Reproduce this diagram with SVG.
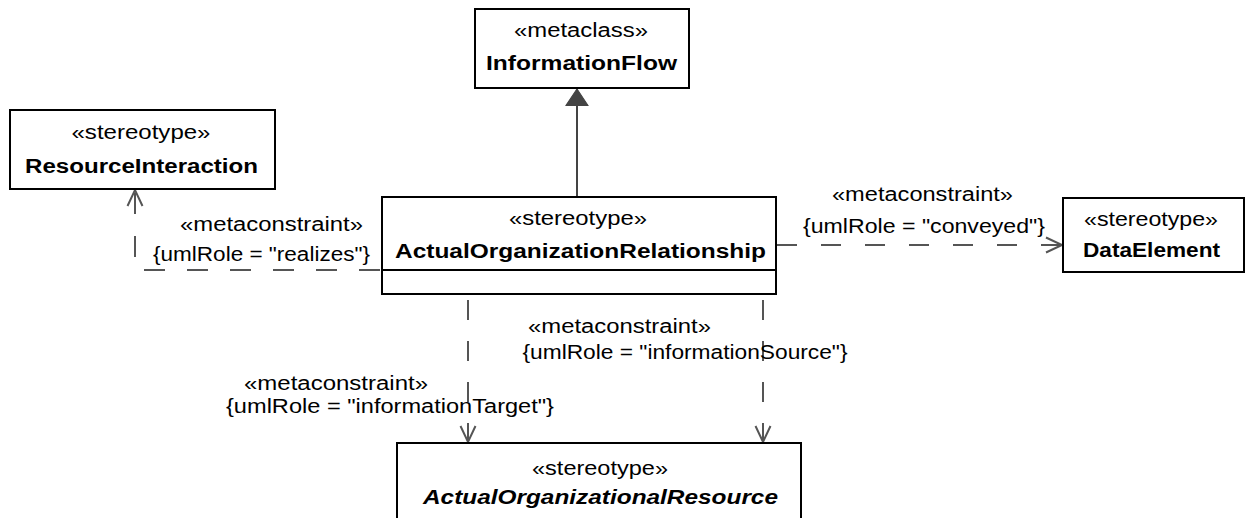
<svg xmlns="http://www.w3.org/2000/svg" width="1247" height="518" viewBox="0 0 1247 518">
  <style>
    .box { fill: #ffffff; stroke: #000000; stroke-width: 2; }
    .t { font-family: "Liberation Sans", Arial, sans-serif; font-size: 20px; fill: #000000; text-anchor: middle; }
    .b { font-weight: bold; }
    .bi { font-weight: bold; font-style: italic; }
    .dep { fill: none; stroke: #555555; stroke-width: 2; }
    .h { stroke-dasharray: 21 22; }
    .v { stroke-dasharray: 20 21; stroke-dashoffset: 35; }
    .gen { fill: none; stroke: #444444; stroke-width: 2; }
  </style>
  <defs>
    <marker id="open" markerUnits="userSpaceOnUse" markerWidth="20" markerHeight="20" viewBox="-18 -10 20 20" refX="0" refY="0" orient="auto" overflow="visible">
      <path d="M-16,-7.5 L0,0 L-16,7.5" fill="none" stroke="#555555" stroke-width="2" stroke-dasharray="none"/>
    </marker>
    <marker id="tri" markerUnits="userSpaceOnUse" markerWidth="20" markerHeight="24" viewBox="-16 -11 18 22" refX="0" refY="0" orient="auto" overflow="visible">
      <path d="M-15,-10 L0,0 L-15,10 Z" fill="#444444" stroke="#444444" stroke-width="1"/>
    </marker>
  </defs>

  <g id="connectors">
    <path class="gen" d="M577,197 L577,89" marker-end="url(#tri)"/>
    <path class="dep h" style="stroke-dashoffset:41" d="M382,270 L135,270 L135,190" marker-end="url(#open)"/>
    <path class="dep" style="stroke-dasharray:20 24" d="M777,245 L1062,245" marker-end="url(#open)"/>
    <path class="dep v" d="M468,294 L468,442" marker-end="url(#open)"/>
    <path class="dep v" d="M763,294 L763,442" marker-end="url(#open)"/>
    <g id="label-realizes">
      <text class="t" x="271.5" y="231" textLength="183" lengthAdjust="spacingAndGlyphs">«metaconstraint»</text>
      <text class="t" x="261.5" y="261" textLength="217" lengthAdjust="spacingAndGlyphs">{umlRole = "realizes"}</text>
    </g>
    <g id="label-conveyed">
      <text class="t" x="922.5" y="201" textLength="181" lengthAdjust="spacingAndGlyphs">«metaconstraint»</text>
      <text class="t" x="924" y="233" textLength="242" lengthAdjust="spacingAndGlyphs">{umlRole = "conveyed"}</text>
    </g>
    <g id="label-source">
      <text class="t" x="619.5" y="333" textLength="183" lengthAdjust="spacingAndGlyphs">«metaconstraint»</text>
      <text class="t" x="685" y="359" textLength="325" lengthAdjust="spacingAndGlyphs">{umlRole = "informationSource"}</text>
    </g>
    <g id="label-target">
      <text class="t" x="336" y="390" textLength="184" lengthAdjust="spacingAndGlyphs">«metaconstraint»</text>
      <text class="t" x="390" y="413" textLength="328" lengthAdjust="spacingAndGlyphs">{umlRole = "informationTarget"}</text>
    </g>
  </g>

  <g id="InformationFlow">
    <rect class="box" x="475" y="9" width="214" height="79"/>
    <text class="t" x="581" y="37" textLength="134" lengthAdjust="spacingAndGlyphs">«metaclass»</text>
    <text class="t b" x="581.5" y="70" textLength="191" lengthAdjust="spacingAndGlyphs">InformationFlow</text>
  </g>

  <g id="ResourceInteraction">
    <rect class="box" x="10" y="110" width="265" height="79"/>
    <text class="t" x="141" y="139" textLength="139" lengthAdjust="spacingAndGlyphs">«stereotype»</text>
    <text class="t b" x="141.5" y="173" textLength="233" lengthAdjust="spacingAndGlyphs">ResourceInteraction</text>
  </g>

  <g id="ActualOrganizationRelationship">
    <rect class="box" x="382" y="197" width="394" height="97"/>
    <line x1="382" y1="270" x2="776" y2="270" stroke="#000000" stroke-width="2"/>
    <text class="t" x="578" y="225" textLength="138" lengthAdjust="spacingAndGlyphs">«stereotype»</text>
    <text class="t b" x="580.5" y="258" textLength="371" lengthAdjust="spacingAndGlyphs">ActualOrganizationRelationship</text>
  </g>

  <g id="DataElement">
    <rect class="box" x="1063" y="198" width="181" height="74"/>
    <text class="t" x="1151" y="226" textLength="134" lengthAdjust="spacingAndGlyphs">«stereotype»</text>
    <text class="t b" x="1151.5" y="257" textLength="137" lengthAdjust="spacingAndGlyphs">DataElement</text>
  </g>

  <g id="ActualOrganizationalResource">
    <rect class="box" x="397" y="443" width="404" height="90"/>
    <text class="t" x="600" y="475" textLength="136" lengthAdjust="spacingAndGlyphs">«stereotype»</text>
    <text class="t bi" x="600.5" y="504" textLength="355" lengthAdjust="spacingAndGlyphs">ActualOrganizationalResource</text>
  </g>
</svg>
